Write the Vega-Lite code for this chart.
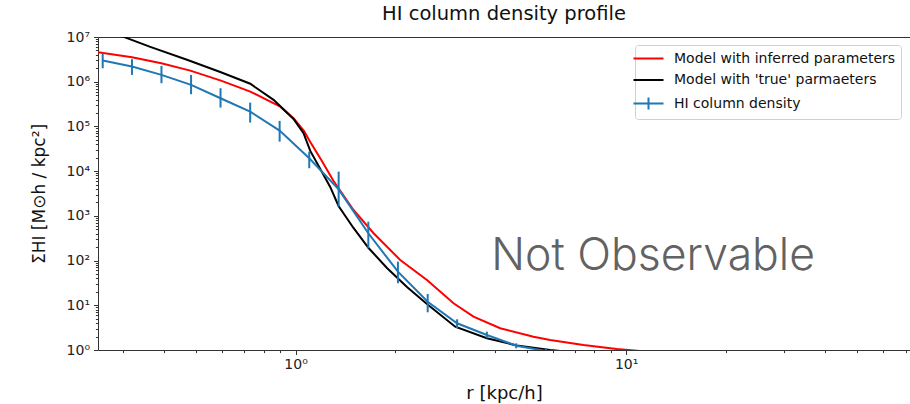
{
  "$schema": "https://vega.github.io/schema/vega-lite/v6.json",
  "usermeta": {"embedOptions": {"actions": false}},
  "autosize": {"type": "none"},
  "padding": {"left": 98, "top": 37, "right": 0, "bottom": 54},
  "width": 812,
  "height": 313,
  "background": "white",
  "title": {"text": "HI column density profile", "font": "DejaVu Sans", "fontSize": 19.5, "fontWeight": "normal", "color": "#111", "anchor": "middle", "frame": "group", "offset": 6},
  "config": {
    "view": {"stroke": null},
    "axis": {"grid": false, "labelFont": "DejaVu Sans", "labelFontSize": 14, "labelColor": "#222", "tickColor": "#333", "domainColor": "#333", "titleFont": "DejaVu Sans", "titleFontWeight": "normal", "titleColor": "#111", "labelFlush": false, "labelOverlap": false, "labelBound": false}
  },
  "data": {"values": [
    {"series": "Model with inferred parameters", "r": 0.2526, "s": 4570000},
    {"series": "Model with inferred parameters", "r": 0.3201, "s": 3530000},
    {"series": "Model with inferred parameters", "r": 0.3926, "s": 2590000},
    {"series": "Model with inferred parameters", "r": 0.4804, "s": 1770000},
    {"series": "Model with inferred parameters", "r": 0.5948, "s": 1060000},
    {"series": "Model with inferred parameters", "r": 0.7295, "s": 601000},
    {"series": "Model with inferred parameters", "r": 0.8991, "s": 277000},
    {"series": "Model with inferred parameters", "r": 0.986, "s": 153000},
    {"series": "Model with inferred parameters", "r": 1.06, "s": 80000},
    {"series": "Model with inferred parameters", "r": 1.108, "s": 45000},
    {"series": "Model with inferred parameters", "r": 1.2, "s": 17000},
    {"series": "Model with inferred parameters", "r": 1.303, "s": 6000},
    {"series": "Model with inferred parameters", "r": 1.497, "s": 1355},
    {"series": "Model with inferred parameters", "r": 1.722, "s": 408},
    {"series": "Model with inferred parameters", "r": 2.073, "s": 103},
    {"series": "Model with inferred parameters", "r": 2.497, "s": 36.8},
    {"series": "Model with inferred parameters", "r": 3.005, "s": 11.1},
    {"series": "Model with inferred parameters", "r": 3.453, "s": 5.56},
    {"series": "Model with inferred parameters", "r": 4.159, "s": 3.06},
    {"series": "Model with inferred parameters", "r": 5.245, "s": 1.98},
    {"series": "Model with inferred parameters", "r": 5.89, "s": 1.67},
    {"series": "Model with inferred parameters", "r": 7.43, "s": 1.29},
    {"series": "Model with inferred parameters", "r": 9.37, "s": 1.05},
    {"series": "Model with inferred parameters", "r": 11.0, "s": 0.95},
    {"series": "Model with 'true' parmaeters", "r": 0.2526, "s": 16000000},
    {"series": "Model with 'true' parmaeters", "r": 0.302, "s": 10050000},
    {"series": "Model with 'true' parmaeters", "r": 0.3635, "s": 6010000},
    {"series": "Model with 'true' parmaeters", "r": 0.4694, "s": 3100000},
    {"series": "Model with 'true' parmaeters", "r": 0.5919, "s": 1650000},
    {"series": "Model with 'true' parmaeters", "r": 0.7295, "s": 900000},
    {"series": "Model with 'true' parmaeters", "r": 0.858, "s": 392000},
    {"series": "Model with 'true' parmaeters", "r": 0.986, "s": 147000},
    {"series": "Model with 'true' parmaeters", "r": 1.057, "s": 70500},
    {"series": "Model with 'true' parmaeters", "r": 1.108, "s": 28300},
    {"series": "Model with 'true' parmaeters", "r": 1.188, "s": 11200},
    {"series": "Model with 'true' parmaeters", "r": 1.273, "s": 4430},
    {"series": "Model with 'true' parmaeters", "r": 1.349, "s": 1660},
    {"series": "Model with 'true' parmaeters", "r": 1.497, "s": 536},
    {"series": "Model with 'true' parmaeters", "r": 1.663, "s": 191},
    {"series": "Model with 'true' parmaeters", "r": 1.89, "s": 68.3},
    {"series": "Model with 'true' parmaeters", "r": 2.173, "s": 25.7},
    {"series": "Model with 'true' parmaeters", "r": 2.497, "s": 10.7},
    {"series": "Model with 'true' parmaeters", "r": 3.04, "s": 3.32},
    {"series": "Model with 'true' parmaeters", "r": 3.791, "s": 1.83},
    {"series": "Model with 'true' parmaeters", "r": 4.673, "s": 1.26},
    {"series": "Model with 'true' parmaeters", "r": 5.89, "s": 1.0},
    {"series": "Model with 'true' parmaeters", "r": 7.26, "s": 0.857},
    {"series": "HI column density", "r": 0.261, "s": 2970000, "lo": 2000000, "hi": 4340000},
    {"series": "HI column density", "r": 0.32, "s": 2180000, "lo": 1420000, "hi": 3190000},
    {"series": "HI column density", "r": 0.393, "s": 1420000, "lo": 925000, "hi": 2260000},
    {"series": "HI column density", "r": 0.483, "s": 848000, "lo": 525000, "hi": 1420000},
    {"series": "HI column density", "r": 0.593, "s": 427000, "lo": 264000, "hi": 716000},
    {"series": "HI column density", "r": 0.729, "s": 214000, "lo": 122000, "hi": 341000},
    {"series": "HI column density", "r": 0.895, "s": 80600, "lo": 45700, "hi": 133000},
    {"series": "HI column density", "r": 1.1, "s": 19400, "lo": 11600, "hi": 27300},
    {"series": "HI column density", "r": 1.35, "s": 3900, "lo": 1610, "hi": 9750},
    {"series": "HI column density", "r": 1.66, "s": 408, "lo": 188, "hi": 741},
    {"series": "HI column density", "r": 2.04, "s": 56.4, "lo": 31.1, "hi": 94.5},
    {"series": "HI column density", "r": 2.51, "s": 12.0, "lo": 6.97, "hi": 17.9},
    {"series": "HI column density", "r": 3.08, "s": 3.96, "lo": 3.06, "hi": 4.86},
    {"series": "HI column density", "r": 3.79, "s": 2.17, "lo": 1.83, "hi": 2.57},
    {"series": "HI column density", "r": 4.65, "s": 1.25, "lo": 1.09, "hi": 1.41},
    {"series": "HI column density", "r": 5.72, "s": 0.95, "lo": 0.8, "hi": 1.1}
  ]},
  "resolve": {"axis": {"x": "independent", "y": "independent"}},
  "layer": [
    {
      "mark": {"type": "line", "strokeWidth": 2, "clip": true},
      "encoding": {
        "x": {"field": "r", "type": "quantitative", "scale": {"type": "log", "domain": [0.2526, 72.2], "nice": false},
              "axis": {"orient": "bottom", "values": [1, 10], "labelExpr": "'10' + ['⁰','¹','²'][round(log(datum.value)/LN10)]", "tickSize": 4.5, "labelPadding": 3, "domain": true, "title": "r [kpc/h]", "titleFontSize": 18, "titlePadding": 13}},
        "y": {"field": "s", "type": "quantitative", "scale": {"type": "log", "domain": [1, 10000000], "nice": false},
              "axis": {"orient": "left", "values": [1, 10, 100, 1000, 10000, 100000, 1000000, 10000000], "labelExpr": "'10' + ['⁰','¹','²','³','⁴','⁵','⁶','⁷'][round(log(datum.value)/LN10)]", "tickSize": 4.5, "labelPadding": 4, "domain": true, "title": "ΣHI  [M⊙h / kpc²]", "titleFontSize": 17, "titlePadding": 18}},
        "color": {"field": "series", "type": "nominal",
                  "scale": {"domain": ["Model with inferred parameters", "Model with 'true' parmaeters", "HI column density"], "range": ["#ff0000", "#000000", "#1f77b4"]},
                  "legend": {"title": null, "orient": "none", "legendX": 537, "legendY": 8, "direction": "vertical",
                             "labelFont": "DejaVu Sans", "labelFontSize": 14, "labelColor": "#111", "labelLimit": 400,
                             "symbolSize": 225, "symbolStrokeWidth": 2, "rowPadding": 5.5, "padding": 5, "symbolOffset": 0, "labelOffset": 17,
                             "strokeColor": "#d0d0d0", "fillColor": "rgba(255,255,255,0.85)", "cornerRadius": 3,
                             "encode": {"symbols": {"update": {"shape": {"signal": "datum.value == 'HI column density' ? 'M-2,0H2M0,-0.8V0.8' : 'M-2,0H2'"}}}}}}
      }
    },
    {
      "transform": [{"filter": "isValid(datum.lo)"}],
      "mark": {"type": "rule", "strokeWidth": 2, "color": "#1f77b4", "clip": true},
      "encoding": {
        "x": {"field": "r", "type": "quantitative", "scale": {"type": "log", "domain": [0.2526, 72.2], "nice": false},
              "axis": {"orient": "bottom", "values": [0.3, 0.4, 0.5, 0.6, 0.7, 0.8, 0.9, 2, 3, 4, 5, 6, 7, 8, 9, 20, 30, 40, 50, 60, 70], "labels": false, "tickSize": 2.6, "domain": false, "title": null}},
        "y": {"field": "lo", "type": "quantitative", "scale": {"type": "log", "domain": [1, 10000000], "nice": false},
              "axis": {"orient": "left", "values": [2, 3, 4, 5, 6, 7, 8, 9, 20, 30, 40, 50, 60, 70, 80, 90, 200, 300, 400, 500, 600, 700, 800, 900, 2000, 3000, 4000, 5000, 6000, 7000, 8000, 9000, 20000, 30000, 40000, 50000, 60000, 70000, 80000, 90000, 200000, 300000, 400000, 500000, 600000, 700000, 800000, 900000, 2000000, 3000000, 4000000, 5000000, 6000000, 7000000, 8000000, 9000000], "labels": false, "tickSize": 2.6, "domain": false, "title": null}},
        "y2": {"field": "hi"}
      }
    },
    {
      "data": {"values": [{"r": 12.07, "s": 120.4, "label": "Not Observable"}]},
      "mark": {"type": "text", "font": "Inter", "fontWeight": 300, "fontSize": 44.5, "color": "#626262", "align": "center", "baseline": "middle"},
      "encoding": {
        "x": {"field": "r", "type": "quantitative", "scale": {"type": "log", "domain": [0.2526, 72.2], "nice": false},
              "axis": {"orient": "top", "labels": false, "ticks": false, "domain": true, "title": null}},
        "y": {"field": "s", "type": "quantitative", "scale": {"type": "log", "domain": [1, 10000000], "nice": false}, "axis": null},
        "text": {"field": "label"}
      }
    }
  ]
}
